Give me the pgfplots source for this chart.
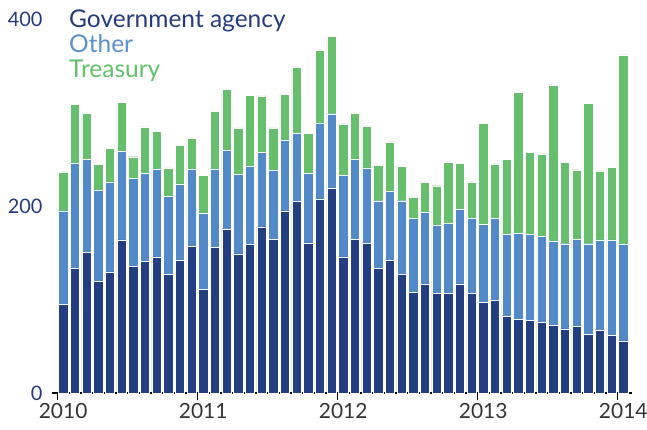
\documentclass[border=0pt]{standalone}
\usepackage{fontspec}
\setmainfont{Lato}
\usepackage{pgfplots}
\usepackage{pgfplotstable}
\pgfplotsset{compat=1.18}
\definecolor{navy}{HTML}{243E82}
\definecolor{midblue}{HTML}{5189C9}
\definecolor{grn}{HTML}{65BF6C}
\definecolor{navytxt}{HTML}{253B7E}
\definecolor{bluetxt}{HTML}{5B8FD0}
\definecolor{grntxt}{HTML}{62BF6B}
\definecolor{txtgray}{HTML}{333333}
\pgfplotstableread{
x gov oth tre
0 95 100 41
1 134 112 63
2 151 99 50
3 120 97 28
4 130 96 36
5 164 95 52
6 136 94 23
7 141 94 50
8 146 94 40
9 127 84 30
10 142 82 41
11 157 83 33
12 111 82 40
13 156 84 62
14 176 84 65
15 149 85 50
16 159 84 76
17 178 80 60
18 165 74 45
19 195 76 49
20 205 73 71
21 161 74 43
22 208 81 78
23 219 80 83
24 146 87 55
25 165 85 50
26 161 80 45
27 134 72 38
28 142 74 53
29 127 79 37
30 108 79 23
31 117 77 32
32 107 73 42
33 107 75 65
34 117 80 49
35 107 80 39
36 97 84 108
37 100 87 58
38 83 87 80
39 79 92 151
40 78 92 88
41 76 92 88
42 73 90 167
43 69 91 87
44 72 93 74
45 63 97 150
46 68 96 74
47 62 102 78
48 56 103 203
}\datatable
\begin{document}
\begin{tikzpicture}[x=1bp,y=1bp]
\path[use as bounding box] (-52,-35.7) rectangle (595,393.3);
\begin{axis}[
  at={(0,0)}, anchor=south west,
  scale only axis, width=580bp, height=374bp,
  xmin=-0.954, xmax=48.75, ymin=0, ymax=400,
  ybar stacked, bar width=9.4bp,
  axis x line*=bottom, axis y line*=left,
  y axis line style={draw=none},
  x axis line style={line width=1.8bp, black, -},
  ytick style={draw=none},
  xtick style={line width=1.1bp, black},
  tick align=outside, major tick length=7bp,
  xtick={-0.5,11.5,23.5,35.5,47.5},
  xticklabels={2010,2011,2012,2013,2014},
  xticklabel style={xshift=5.83bp, font=\fontsize{21}{24}\selectfont, text=txtgray},
  ytick={0,200,400},
  yticklabel style={font=\fontsize{20}{22}\selectfont, text=navytxt, xshift=1bp},
  /pgf/number format/assume math mode=true,
  clip=false,
]
\addplot[fill=navy, draw=white, line width=0.3bp] table[x=x, y=gov] {\datatable};
\addplot[fill=midblue, draw=white, line width=0.3bp] table[x=x, y=oth] {\datatable};
\addplot[fill=grn, draw=white, line width=0.3bp] table[x=x, y=tre] {\datatable};
\end{axis}
\node[anchor=base west, text=navytxt, font=\fontsize{24.6}{28}\selectfont, inner sep=0] at (17,366.3) {Government agency};
\node[anchor=base west, text=bluetxt, font=\fontsize{24.6}{28}\selectfont, inner sep=0] at (17,341.3) {Other};
\node[anchor=base west, text=grntxt, font=\fontsize{24.6}{28}\selectfont, inner sep=0] at (17,316.3) {Treasury};
\end{tikzpicture}
\end{document}
